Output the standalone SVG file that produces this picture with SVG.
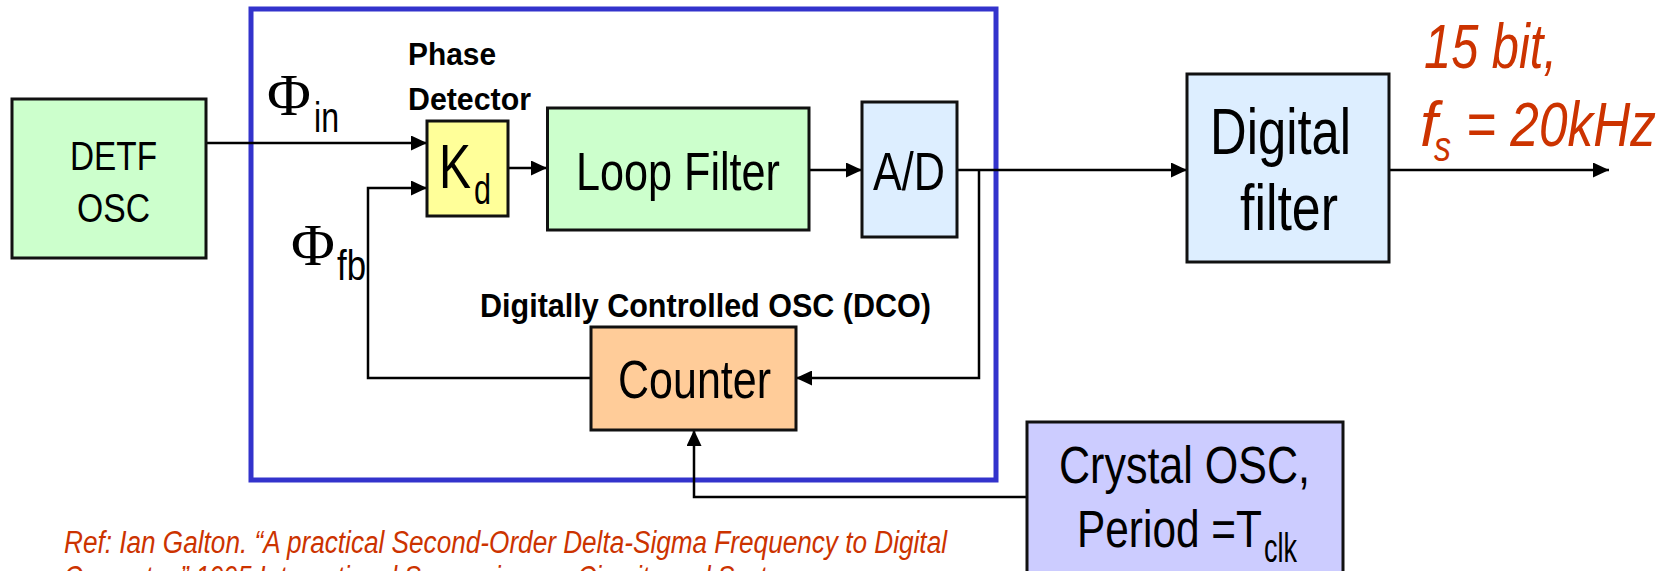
<svg xmlns="http://www.w3.org/2000/svg" width="1674" height="571" viewBox="0 0 1674 571">
<style>
.box{stroke:#111;stroke-width:3}
.lbl{font-family:"Liberation Sans",Arial,sans-serif;fill:#000}
.bold{font-family:"Liberation Sans",Arial,sans-serif;font-weight:bold;fill:#000}
.phi{font-family:"Liberation Serif","Times New Roman",serif;fill:#000}
.red{font-family:"Liberation Sans",Arial,sans-serif;font-style:italic;fill:#CC3300}
.wire{fill:none;stroke:#000;stroke-width:2.5}
</style>
<defs>
<marker id="arr" markerUnits="userSpaceOnUse" markerWidth="17" markerHeight="15" refX="16" refY="7.5" orient="auto">
<path d="M0,0 L16,7.5 L0,15 z" fill="#000"/>
</marker>
</defs>
<rect x="0" y="0" width="1674" height="571" fill="#fff"/>
<g id="pll-frame">
<rect x="251" y="9" width="745" height="471" fill="none" stroke="#3333CC" stroke-width="5"/>
</g>
<g id="connectors">
<path class="wire" d="M206,143 H427" marker-end="url(#arr)"/>
<path class="wire" d="M591,378 H368 V188 H427" marker-end="url(#arr)"/>
<path class="wire" d="M508,168 H547" marker-end="url(#arr)"/>
<path class="wire" d="M809,170 H862" marker-end="url(#arr)"/>
<path class="wire" d="M957,170 H1187" marker-end="url(#arr)"/>
<path class="wire" d="M979,170 V378 H796" marker-end="url(#arr)"/>
<path class="wire" d="M1389,170 H1609" marker-end="url(#arr)"/>
<path class="wire" d="M1027,497 H694 V430" marker-end="url(#arr)"/>
</g>
<g id="detf-osc">
<rect class="box" x="12" y="99" width="194" height="159" fill="#CCFFCC"/>
<text class="lbl" x="70" y="170" font-size="40" textLength="87" lengthAdjust="spacingAndGlyphs">DETF</text>
<text class="lbl" x="77" y="222" font-size="40" textLength="73" lengthAdjust="spacingAndGlyphs">OSC</text>
</g>
<g id="phase-detector">
<text class="bold" x="408" y="65" font-size="32" textLength="88" lengthAdjust="spacingAndGlyphs">Phase</text>
<text class="bold" x="408" y="110" font-size="32" textLength="123" lengthAdjust="spacingAndGlyphs">Detector</text>
<rect class="box" x="427" y="121" width="81" height="95" fill="#FFFF99"/>
<text class="lbl" x="439" y="188" font-size="63" textLength="32" lengthAdjust="spacingAndGlyphs">K</text>
<text class="lbl" x="474" y="204" font-size="42" textLength="17" lengthAdjust="spacingAndGlyphs">d</text>
</g>
<g id="phi-in">
<text class="phi" x="267" y="115" font-size="60">Φ</text>
<text class="lbl" x="314" y="132" font-size="42" textLength="25" lengthAdjust="spacingAndGlyphs">in</text>
</g>
<g id="phi-fb">
<text class="phi" x="291" y="265" font-size="60">Φ</text>
<text class="lbl" x="337" y="280" font-size="42" textLength="29" lengthAdjust="spacingAndGlyphs">fb</text>
</g>
<g id="loop-filter">
<rect class="box" x="547.5" y="108" width="261.5" height="122" fill="#CCFFCC"/>
<text class="lbl" x="576" y="190" font-size="54" textLength="204" lengthAdjust="spacingAndGlyphs">Loop Filter</text>
</g>
<g id="ad">
<rect class="box" x="862" y="102" width="95" height="135" fill="#DDEEFF"/>
<text class="lbl" x="873" y="190" font-size="54" textLength="72" lengthAdjust="spacingAndGlyphs">A/D</text>
</g>
<g id="dco">
<text class="bold" x="480" y="317" font-size="33" textLength="451" lengthAdjust="spacingAndGlyphs">Digitally Controlled OSC (DCO)</text>
<rect class="box" x="591" y="327" width="205" height="103" fill="#FFCC99"/>
<text class="lbl" x="618" y="398" font-size="54" textLength="153" lengthAdjust="spacingAndGlyphs">Counter</text>
</g>
<g id="digital-filter">
<rect class="box" x="1187" y="74" width="202" height="188" fill="#DDEEFF"/>
<text class="lbl" x="1210" y="154" font-size="64" textLength="141" lengthAdjust="spacingAndGlyphs">Digital</text>
<text class="lbl" x="1240" y="230" font-size="64" textLength="98" lengthAdjust="spacingAndGlyphs">filter</text>
</g>
<g id="output-label">
<text class="red" x="1424" y="68" font-size="63" textLength="133" lengthAdjust="spacingAndGlyphs">15 bit,</text>
<text class="red" x="1420" y="146" font-size="63">f</text>
<text class="red" x="1434" y="161" font-size="42" textLength="17" lengthAdjust="spacingAndGlyphs">s</text>
<text class="red" x="1466" y="146" font-size="63" textLength="190" lengthAdjust="spacingAndGlyphs">= 20kHz</text>
</g>
<g id="crystal-osc">
<rect class="box" x="1027" y="422" width="316" height="160" fill="#CCCCFF"/>
<text class="lbl" x="1059" y="483" font-size="51" textLength="251" lengthAdjust="spacingAndGlyphs">Crystal OSC,</text>
<text class="lbl" x="1077" y="547" font-size="51" textLength="185" lengthAdjust="spacingAndGlyphs">Period =T</text>
<text class="lbl" x="1264" y="562" font-size="40" textLength="33" lengthAdjust="spacingAndGlyphs">clk</text>
</g>
<g id="reference">
<text class="red" x="64" y="553" font-size="31" textLength="883" lengthAdjust="spacingAndGlyphs">Ref: Ian Galton. “A practical Second-Order Delta-Sigma Frequency to Digital</text>
<text class="red" x="64" y="588" font-size="31" textLength="750" lengthAdjust="spacingAndGlyphs">Converter,” 1995 International Symposium on Circuits and Systems</text>
</g>
</svg>
